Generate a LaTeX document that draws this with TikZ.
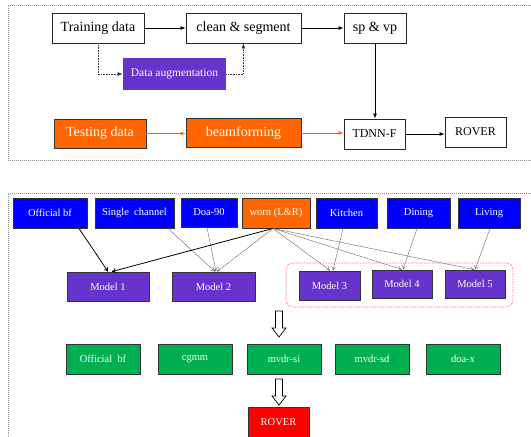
\documentclass[tikz,border=0pt]{standalone}
\usepackage{fontspec}
\setmainfont{Liberation Serif}
\usetikzlibrary{arrows.meta,calc}
\definecolor{cblue}{HTML}{0000FF}
\definecolor{cpurple}{HTML}{6633CC}
\definecolor{corange}{HTML}{FF6600}
\definecolor{cgreen}{HTML}{00B050}
\definecolor{cred}{HTML}{FF0000}
\tikzset{
  wbox/.style={draw=black!85, line width=0.9pt, fill=white, inner sep=0pt, text=black},
  cbox/.style={draw=black!80, line width=0.9pt, inner sep=0pt, text=white},
  frame/.style={draw=black!45, line width=1pt, densely dotted},
  arr/.style={-{Latex[length=5pt,width=4pt]}, line width=0.7pt, draw=black},
  oarr/.style={-{Latex[length=5pt,width=4pt]}, line width=0.7pt, draw=corange},
  darr/.style={-{Latex[length=5pt,width=4pt]}, line width=0.6pt, draw=black!80, densely dotted},
  thin arr/.style={-{To[length=4pt,width=5pt]}, line width=0.4pt, draw=black!60},
  thick arr/.style={-{To[length=4pt,width=5pt]}, line width=0.8pt, draw=black},
  hollow/.style={draw=black, line width=0.7pt, fill=white},
  big/.style={font=\fontsize{14}{16}\selectfont},
  mid/.style={font=\fontsize{12}{14}\selectfont},
  small/.style={font=\fontsize{10.5}{12}\selectfont},
}
\begin{document}
\begin{tikzpicture}[x=1pt,y=-1pt]
\useasboundingbox (0,0) rectangle (531,437);
% frames
\draw[frame] (531,5) -- (8,5) -- (8,160) -- (531,160);
\draw[frame] (531,193) -- (8,193) -- (8,437);
% top section
\node[wbox,big,minimum width=92pt,minimum height=30pt] (train) at (98,28) {Training data};
\node[wbox,big,minimum width=115pt,minimum height=30pt] (clean) at (243.5,28) {clean \& segment};
\node[wbox,big,minimum width=62pt,minimum height=30pt] (spvp) at (375,28) {sp \& vp};
\node[cbox,fill=cpurple,draw=none,font=\fontsize{11.5}{13}\selectfont,minimum width=103pt,minimum height=32pt] (aug) at (174.5,74) {Data augmentation};
\node[cbox,fill=corange,big,minimum width=92pt,minimum height=29pt] (test) at (100,133.5) {Testing data};
\node[cbox,fill=corange,big,minimum width=115pt,minimum height=29pt] (beam) at (243.5,133) {beamforming};
\node[wbox,mid,minimum width=61pt,minimum height=30pt] (tdnn) at (374.5,134) {TDNN-F};
\node[wbox,mid,minimum width=61pt,minimum height=30pt] (rover1) at (475.5,132) {ROVER};
\draw[arr] (train.east) -- (clean.west);
\draw[arr] (clean.east) -- (spvp.west);
\draw[arr] (spvp.south) -- (spvp.south |- tdnn.north);
\draw[darr] (train.south) |- (aug.west);
\draw[darr] (aug.east) -| (clean.south);
\draw[oarr] (test.east) -- (test.east -| beam.west);
\draw[oarr] (beam.east) -- (beam.east -| tdnn.west);
\draw[arr] (tdnn.east) -- (tdnn.east -| rover1.west);
% bottom section: sources
\node[cbox,fill=cblue,small,minimum width=74pt,minimum height=30pt] (ofbf) at (50,213) {Official bf};
\node[cbox,fill=cblue,small,minimum width=79pt,minimum height=30pt] (single) at (134.5,213) {Single\ \ channel};
\node[cbox,fill=cblue,small,minimum width=56pt,minimum height=29pt] (doa) at (209,212.5) {Doa-90};
\node[cbox,fill=corange,small,minimum width=68pt,minimum height=30pt] (worn) at (276,213) {worn (L\&R)};
\node[cbox,fill=cblue,small,minimum width=61pt,minimum height=30pt] (kitchen) at (346.5,213) {Kitchen};
\node[cbox,fill=cblue,small,minimum width=63pt,minimum height=30pt] (dining) at (418.5,213) {Dining};
\node[cbox,fill=cblue,small,minimum width=62pt,minimum height=30pt] (living) at (489,213) {Living};
% models
\draw[red!80, densely dotted, line width=0.6pt, rounded corners=7pt] (286,263) rectangle (513,307);
\node[cbox,fill=cpurple,small,minimum width=82pt,minimum height=29pt] (m1) at (108,286.5) {Model 1};
\node[cbox,fill=cpurple,small,minimum width=83pt,minimum height=29pt] (m2) at (213.5,286.5) {Model 2};
\node[cbox,fill=cpurple,small,minimum width=61pt,minimum height=29pt] (m3) at (329.5,285.5) {Model 3};
\node[cbox,fill=cpurple,small,minimum width=60pt,minimum height=28pt] (m4) at (402,284) {Model 4};
\node[cbox,fill=cpurple,small,minimum width=60pt,minimum height=28pt] (m5) at (475,284) {Model 5};
% connectors
\draw[thick arr] ([xshift=29pt]ofbf.south) -- ([xshift=0pt]m1.north);
\draw[thin arr] ([xshift=33.5pt]single.south) -- ([xshift=1.5pt]m2.north);
\draw[thin arr] ([xshift=-2pt]doa.south) -- ([xshift=2.5pt]m2.north);
\draw[thick arr] ([xshift=-3pt]worn.south) -- ([xshift=4pt]m1.north);
\draw[thin arr] ([xshift=-3pt]worn.south) -- ([xshift=3.5pt]m2.north);
\draw[thin arr] ([xshift=-3pt]worn.south) -- ([xshift=0.5pt]m3.north);
\draw[thin arr] ([xshift=-3pt]worn.south) -- ([xshift=0pt]m4.north);
\draw[thin arr] ([xshift=-3pt]worn.south) -- ([xshift=-1pt]m5.north);
\draw[thin arr] ([xshift=-3.5pt]kitchen.south) -- ([xshift=3.5pt]m3.north);
\draw[thin arr] ([xshift=-1.5pt]dining.south) -- ([xshift=1pt]m4.north);
\draw[thin arr] ([xshift=1pt]living.south) -- ([xshift=0pt]m5.north);
% green row
\node[cbox,fill=cgreen,small,minimum width=74pt,minimum height=30pt] (g1) at (103,359) {Official\ \ bf};
\node[cbox,fill=cgreen,small,minimum width=74pt,minimum height=30pt] (g2) at (195,359) {cgmm};
\node[cbox,fill=cgreen,small,minimum width=74pt,minimum height=30pt] (g3) at (284,359) {mvdr-si};
\node[cbox,fill=cgreen,small,minimum width=74pt,minimum height=30pt] (g4) at (372,359) {mvdr-sd};
\node[cbox,fill=cgreen,small,minimum width=74pt,minimum height=30pt] (g5) at (463,359) {doa-x};
\node[cbox,fill=cred,small,minimum width=61pt,minimum height=30pt] (rover2) at (278.5,422) {ROVER};
% hollow arrows
\coordinate (ha) at (279,311);
\coordinate (hb) at (279,379);
\foreach \c in {ha,hb}{
  \draw[hollow] ($(\c)+(-3.5,0)$) -- ($(\c)+(3.5,0)$) -- ($(\c)+(3.5,17)$) -- ($(\c)+(7,17)$)
    -- ($(\c)+(0,26)$) -- ($(\c)+(-7,17)$) -- ($(\c)+(-3.5,17)$) -- cycle;
}
\end{tikzpicture}
\end{document}
